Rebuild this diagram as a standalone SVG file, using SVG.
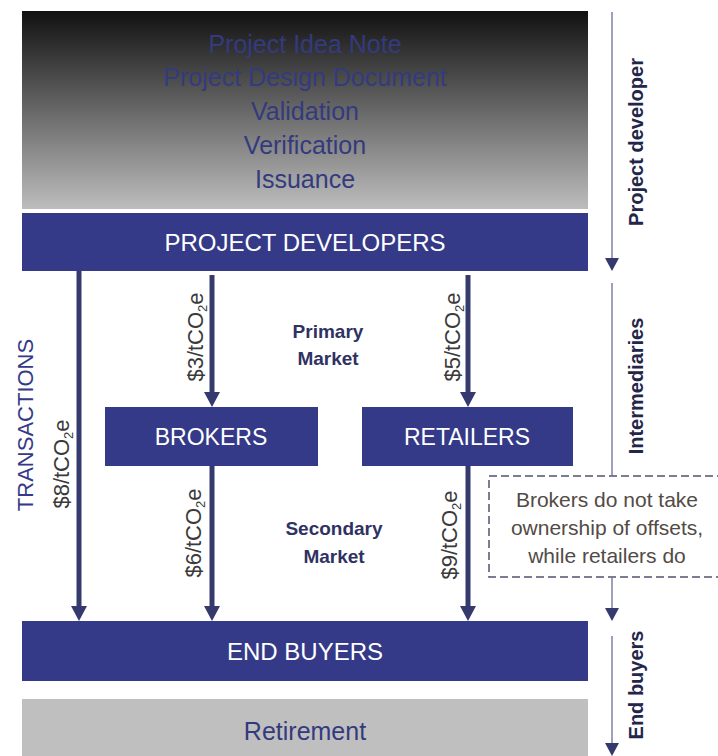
<svg xmlns="http://www.w3.org/2000/svg" width="718" height="756" viewBox="0 0 718 756">
  <defs>
    <linearGradient id="topGrad" x1="0" y1="0" x2="0" y2="1">
      <stop offset="0" stop-color="#111111"/>
      <stop offset="1" stop-color="#bdbdbd"/>
    </linearGradient>
    <marker id="headBig" markerUnits="userSpaceOnUse" markerWidth="15" markerHeight="16" viewBox="0 0 15 16" refX="0" refY="8" orient="auto">
      <path d="M0,0 L15,8 L0,16 Z" fill="#353a6e"/>
    </marker>
    <marker id="headSmall" markerUnits="userSpaceOnUse" markerWidth="13" markerHeight="14" viewBox="0 0 13 14" refX="0" refY="7" orient="auto">
      <path d="M0,0 L13,7 L0,14 Z" fill="#353a6e"/>
    </marker>
    <style>
      .navybox { fill: #343a87; }
      .boxlabel { font-family: "Liberation Sans", Arial, sans-serif; fill: #ffffff; text-anchor: middle; }
      .steps { font-family: "Liberation Sans", Arial, sans-serif; font-size: 25px; fill: #343a7e; text-anchor: middle; }
      .price { font-family: "Liberation Sans", Arial, sans-serif; font-size: 22px; fill: #3a3a3a; text-anchor: middle; }
      .market { font-family: "Liberation Sans", Arial, sans-serif; font-size: 19px; font-weight: bold; fill: #2f3262; text-anchor: middle; }
      .side { font-family: "Liberation Sans", Arial, sans-serif; font-size: 20px; font-weight: bold; fill: #23264a; text-anchor: middle; }
      .note { font-family: "Liberation Sans", Arial, sans-serif; font-size: 21px; fill: #524b46; text-anchor: middle; }
      .flow { stroke: #353a6e; stroke-width: 5; fill: none; }
      .thin { stroke: #6a6e96; stroke-width: 1.3; fill: none; }
    </style>
  </defs>

  <!-- Top process box -->
  <g id="process-steps">
    <rect x="22" y="11" width="566" height="198" fill="url(#topGrad)"/>
    <text class="steps" x="305" y="53">Project Idea Note</text>
    <text class="steps" x="305" y="86">Project Design Document</text>
    <text class="steps" x="305" y="120">Validation</text>
    <text class="steps" x="305" y="154">Verification</text>
    <text class="steps" x="305" y="188">Issuance</text>
  </g>

  <g id="project-developers">
    <rect class="navybox" x="22" y="213" width="566" height="58"/>
    <text class="boxlabel" x="305" y="251" font-size="24">PROJECT DEVELOPERS</text>
  </g>

  <g id="brokers">
    <rect class="navybox" x="105" y="407" width="213" height="59"/>
    <text class="boxlabel" x="211" y="445" font-size="23">BROKERS</text>
  </g>

  <g id="retailers">
    <rect class="navybox" x="362" y="407" width="211" height="59"/>
    <text class="boxlabel" x="467" y="445" font-size="23">RETAILERS</text>
  </g>

  <g id="end-buyers">
    <rect class="navybox" x="22" y="621" width="566" height="60"/>
    <text class="boxlabel" x="305" y="660" font-size="24">END BUYERS</text>
  </g>

  <g id="retirement">
    <rect x="22" y="699" width="566" height="57" fill="#bfbfbf"/>
    <text class="steps" x="305" y="740">Retirement</text>
  </g>

  <g id="note">
    <rect x="489" y="476" width="235" height="101" fill="#ffffff" stroke="#50546f" stroke-width="1.5" stroke-dasharray="8 4"/>
    <text class="note" x="607" y="507">Brokers do not take</text>
    <text class="note" x="607" y="535">ownership of offsets,</text>
    <text class="note" x="607" y="563">while retailers do</text>
  </g>

  <!-- Connectors -->
  <g id="connectors">
    <line class="flow" x1="79" y1="271" x2="79" y2="606" marker-end="url(#headBig)"/>
    <line class="flow" x1="212" y1="275" x2="212" y2="392" marker-end="url(#headBig)"/>
    <line class="flow" x1="212" y1="466" x2="212" y2="606" marker-end="url(#headBig)"/>
    <line class="flow" x1="468" y1="275" x2="468" y2="392" marker-end="url(#headBig)"/>
    <line class="flow" x1="468" y1="466" x2="468" y2="606" marker-end="url(#headBig)"/>

    <line class="thin" x1="612" y1="12" x2="612" y2="258" marker-end="url(#headSmall)"/>
    <line class="thin" x1="612" y1="283" x2="612" y2="476"/>
    <line class="thin" x1="612" y1="577" x2="612" y2="608" marker-end="url(#headSmall)"/>
    <line class="thin" x1="612" y1="636" x2="612" y2="743" marker-end="url(#headSmall)"/>
  </g>

  <!-- Labels -->
  <g id="labels">
    <text class="market" x="328" y="338">Primary</text>
    <text class="market" x="328" y="365">Market</text>
    <text class="market" x="334" y="535">Secondary</text>
    <text class="market" x="334" y="563">Market</text>

    <text transform="translate(33,425) rotate(-90)" x="0" y="0" font-family="Liberation Sans, Arial, sans-serif" font-size="22" fill="#343a87" text-anchor="middle">TRANSACTIONS</text>

    <text class="price" transform="translate(69,464) rotate(-90)">$8/tCO<tspan font-size="13" dy="4">2</tspan><tspan dy="-4">e</tspan></text>
    <text class="price" transform="translate(203,337) rotate(-90)">$3/tCO<tspan font-size="13" dy="4">2</tspan><tspan dy="-4">e</tspan></text>
    <text class="price" transform="translate(201,533) rotate(-90)">$6/tCO<tspan font-size="13" dy="4">2</tspan><tspan dy="-4">e</tspan></text>
    <text class="price" transform="translate(460,337) rotate(-90)">$5/tCO<tspan font-size="13" dy="4">2</tspan><tspan dy="-4">e</tspan></text>
    <text class="price" transform="translate(457,535) rotate(-90)">$9/tCO<tspan font-size="13" dy="4">2</tspan><tspan dy="-4">e</tspan></text>

    <text class="side" transform="translate(643,142) rotate(-90)">Project developer</text>
    <text class="side" transform="translate(643,386) rotate(-90)">Intermediaries</text>
    <text class="side" transform="translate(643,685) rotate(-90)">End buyers</text>
  </g>
</svg>
